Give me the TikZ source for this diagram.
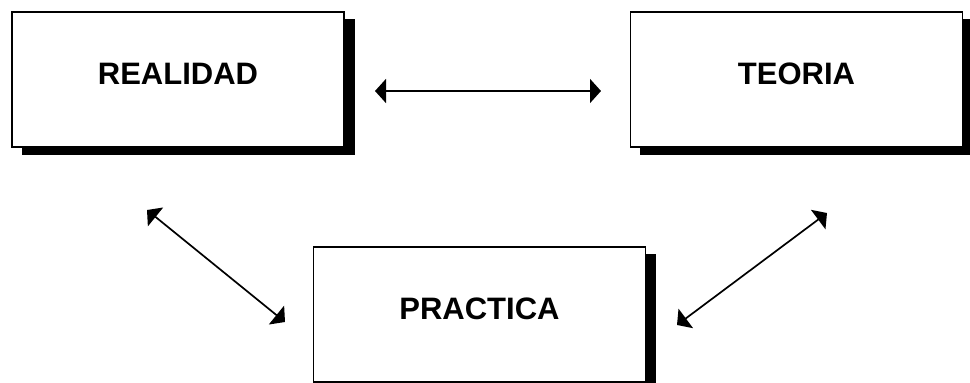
\documentclass[tikz,border=0pt]{standalone}
\usepackage{fontspec}
\setmainfont{Liberation Sans}
\usetikzlibrary{arrows.meta}

\begin{document}
\begin{tikzpicture}[x=1pt, y=-1pt,
  conceptbox/.style={draw=black, line width=1.6pt, fill=white,
    minimum width=332pt, minimum height=135pt, inner sep=0pt,
    font=\bfseries\fontsize{31}{34}\selectfont,
    text height=22pt, text depth=13pt},
  boxshadow/.style={fill=black},
  link/.style={line width=1.7pt,
    {Triangle[length=11pt, width=24pt]}-{Triangle[length=11pt, width=24pt]}}
]
  \useasboundingbox (0,0) rectangle (970,383);

  % drop shadows
  \fill[boxshadow] (22,19) rectangle (355,155);
  \fill[boxshadow] (640,19) rectangle (974,155);
  \fill[boxshadow] (323,254) rectangle (656,390);

  % concept boxes
  \node[conceptbox] (realidad) at (178,79.5) {REALIDAD};
  \node[conceptbox] (teoria)   at (796.5,79.5) {TEORIA};
  \node[conceptbox] (practica) at (479.5,314.5) {PRACTICA};

  % connector end points
  \coordinate (rtA) at (375,91);
  \coordinate (rtB) at (601,91);
  \coordinate (rpA) at (147,210);
  \coordinate (rpB) at (285,322);
  \coordinate (tpA) at (827,213);
  \coordinate (tpB) at (677,325);

  % two-way links
  \draw[link] (rtA) -- (rtB);
  \draw[link] (rpA) -- (rpB);
  \draw[link] (tpA) -- (tpB);
\end{tikzpicture}
\end{document}
